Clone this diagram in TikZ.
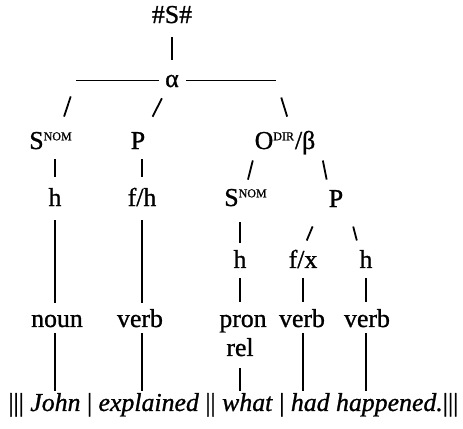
\documentclass[tikz,border=0pt]{standalone}
\usepackage{fontspec}
\setmainfont{Liberation Serif}[FakeBold=1]
\usetikzlibrary{calc}
\newcommand{\gsup}[1]{\textsuperscript{\fontsize{6}{6}\selectfont #1}}

\begin{document}
\begin{tikzpicture}[x=0.5pt,y=-0.5pt,
  font=\fontsize{12.9}{15}\selectfont,
  lab/.style={anchor=base, inner sep=0pt, text height=9.1pt, text depth=2.6pt},
  edge/.style={draw=black, line width=0.9pt},
]
\useasboundingbox (0,0) rectangle (463,429);
% ---------------- clause level ----------------
\node[lab] (top) at (172,23) {\#S\#};
\node[lab] (alpha) at (172,87) {α};
\coordinate (barL) at (76,80.5);
\coordinate (barR) at (276,80.5);
\draw[edge, shorten <=4.4pt, shorten >=4.4pt] (top) -- (alpha);
\draw[edge, shorten >=3pt] (barL) -- (alpha);
\draw[edge, shorten <=3.5pt] (alpha) -- (barR);
% ---------------- elements ----------------
\node[lab] (s1) at (51,149) {S\gsup{NOM}};
\node[lab] (p1) at (138,149) {P};
\node[lab] (o1) at (285,149) {O\gsup{DIR}/β};
\draw[edge, shorten <=8.4pt, shorten >=7.3pt] (barL) -- (s1.55);
\draw[edge, shorten <=3.2pt, shorten >=7.7pt] (alpha.south west) -- (p1.north east);
\draw[edge, shorten <=8.9pt, shorten >=7.2pt] (barR) -- (o1.62);
% ---------------- embedded clause ----------------
\node[lab] (h1) at (55,206) {h};
\node[lab] (fh) at (142,206) {f/h};
\node[lab] (s2) at (246,206) {S\gsup{NOM}};
\node[lab] (p2) at (336,207) {P};
\draw[edge, shorten <=2.4pt, shorten >=5.4pt] (s1.south -| h1) -- (h1);
\draw[edge, shorten <=2.4pt, shorten >=5.4pt] (p1.south -| fh) -- (fh);
\draw[edge, shorten <=3pt, shorten >=4pt] (o1.south west) -- (s2.north);
\draw[edge, shorten <=3pt, shorten >=4.5pt] ([xshift=3pt]o1.south east) -- (p2.north west);
% ---------------- groups ----------------
\node[lab] (h2) at (240,268) {h};
\node[lab] (fx) at (303,268) {f/x};
\node[lab] (h3) at (366,268) {h};
\draw[edge, shorten <=5.4pt, shorten >=3.4pt] (s2.south -| h2) -- (h2);
\draw[edge, shorten <=7.5pt, shorten >=4.8pt] ([xshift=-5pt]p2.south west) -- (fx.north);
\draw[edge, shorten <=7.2pt, shorten >=4.6pt] ([xshift=3pt]p2.south east) -- (h3.north west);
% ---------------- word classes ----------------
\node[lab] (noun) at (57,327) {noun};
\node[lab] (verb1) at (140,327) {verb};
\node[lab] (pron) at (243,327) {pron};
\node[lab] (verb2) at (302,327) {verb};
\node[lab] (verb3) at (367,327) {verb};
\node[lab] (rel) at (240,356) {rel};
\draw[edge, shorten <=4.4pt, shorten >=2.9pt] (h1) -- (h1 |- noun.north);
\draw[edge, shorten <=4.4pt, shorten >=2.9pt] (fh) -- (fh |- verb1.north);
\draw[edge, shorten <=2.4pt, shorten >=3.4pt] (h2) -- (h2 |- pron.north);
\draw[edge, shorten <=2.4pt, shorten >=3.4pt] (fx) -- (fx |- verb2.north);
\draw[edge, shorten <=2.4pt, shorten >=3.4pt] (h3) -- (h3 |- verb3.north);
% ---------------- words ----------------
\node[lab, anchor=base west, text height=7.8pt] (words) at (8,411)
  {||| \textit{John} | \textit{explained} || \textit{what} | \textit{had happened.}|||};
\draw[edge, shorten <=0.4pt, shorten >=2.2pt] (h1 |- noun.south) -- (h1 |- words.north);
\draw[edge, shorten <=0.4pt, shorten >=2.2pt] (fh |- verb1.south) -- (fh |- words.north);
\draw[edge, shorten <=3.4pt, shorten >=2.2pt] (rel) -- (rel |- words.north);
\draw[edge, shorten <=0.4pt, shorten >=2.2pt] (fx |- verb2.south) -- (fx |- words.north);
\draw[edge, shorten <=0.4pt, shorten >=2.2pt] (h3 |- verb3.south) -- (h3 |- words.north);
\end{tikzpicture}
\end{document}
